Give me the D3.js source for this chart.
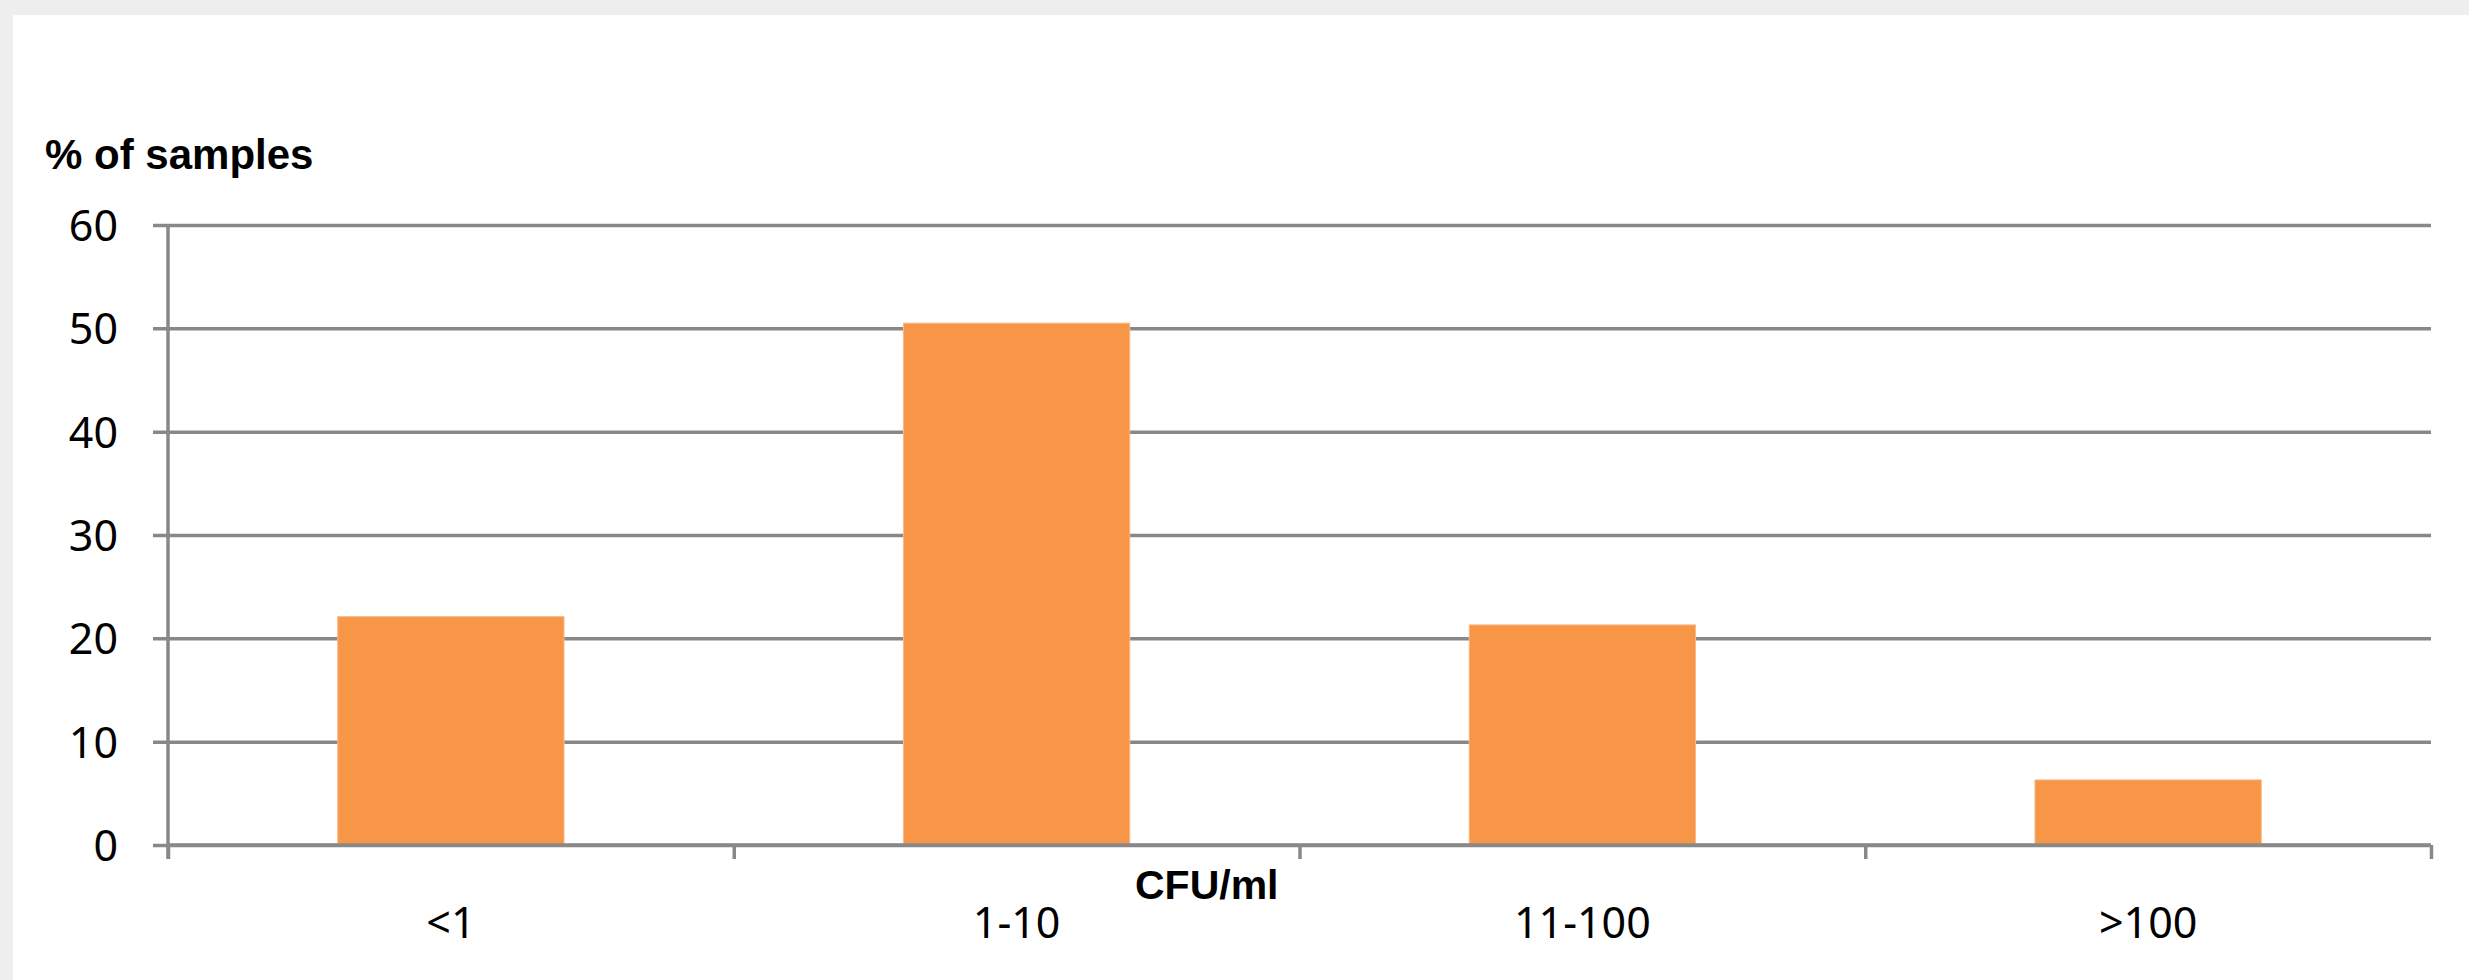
<!DOCTYPE html>
<html>
<head>
<meta charset="utf-8">
<script src="https://cdn.jsdelivr.net/npm/d3@7"></script>
<style>
  html, body { margin: 0; padding: 0; background: #eeeeee; }
  svg { display: block; }
</style>
</head>
<body>
<svg id="chart" width="2469" height="980"></svg>
<script>
// Share of samples per colony-count class
const categories = ["<1", "1-10", "11-100", ">100"];
const percentSamples = [22.1, 50.5, 21.3, 6.3];
const yTicks = [0, 10, 20, 30, 40, 50, 60];
const yAxisTitle = "% of samples";
const xAxisTitle = "CFU/ml";

const svg = d3.select("#chart");
const W = 2469, H = 980;
const labelFont = "'Noto Sans', 'Open Sans', sans-serif";
const titleFont = "'Liberation Sans', Arial, sans-serif";

// page backdrop and white panel
svg.append("rect").attr("width", W).attr("height", H).attr("fill", "#eeeeee");
svg.append("rect").attr("x", 13).attr("y", 15).attr("width", W - 13).attr("height", H - 15).attr("fill", "#ffffff");

const plot = { left: 168, right: 2431, top: 225, bottom: 845 };
const gridColor = "#888888";

const x = d3.scaleBand()
  .domain(categories)
  .range([plot.left, plot.right])
  .paddingInner(0.6)
  .paddingOuter(0.3);

const y = d3.scaleLinear()
  .domain([0, 60])
  .range([plot.bottom, plot.top]);

// boundaries between the category slots, for the x-axis tick marks
const slot = d3.scaleLinear().domain([0, categories.length]).range([plot.left, plot.right]);

// horizontal gridlines + y axis ticks/labels
const yAxis = svg.append("g")
  .attr("transform", `translate(${plot.left},0)`)
  .call(d3.axisLeft(y).tickValues(yTicks).tickSize(15).tickPadding(35).tickFormat(d3.format("d")));
yAxis.select(".domain").remove();
yAxis.selectAll(".tick line")
  .attr("x1", -15)
  .attr("x2", plot.right - plot.left)
  .attr("stroke", gridColor)
  .attr("stroke-width", 3.5);
yAxis.selectAll(".tick text")
  .attr("font-family", labelFont)
  .attr("font-size", 43)
  .attr("fill", "#000")
  .attr("dy", "0.36em");

// bars
svg.append("g")
  .selectAll("rect")
  .data(categories.map((c, i) => ({ c, v: percentSamples[i] })))
  .join("rect")
  .attr("x", d => x(d.c))
  .attr("width", x.bandwidth())
  .attr("y", d => y(d.v))
  .attr("height", d => y(0) - y(d.v))
  .attr("fill", "#F79646")
  .attr("stroke", "#FAB98A")
  .attr("stroke-width", 1);

// vertical axis line (runs a little below zero like the tick marks)
svg.append("line")
  .attr("x1", plot.left).attr("x2", plot.left)
  .attr("y1", plot.top).attr("y2", plot.bottom + 14)
  .attr("stroke", gridColor).attr("stroke-width", 3.5);

// x axis line with boundary ticks
const xTickAxis = svg.append("g")
  .attr("transform", `translate(0,${plot.bottom})`)
  .call(d3.axisBottom(slot).ticks(categories.length).tickSize(14).tickFormat(""));
xTickAxis.select(".domain").attr("stroke", gridColor).attr("stroke-width", 3.5)
  .attr("d", `M${plot.left},0H${plot.right}`);
xTickAxis.selectAll(".tick line").attr("stroke", gridColor).attr("stroke-width", 3.5);

// category labels centred under each bar
const xLabels = svg.append("g")
  .attr("transform", `translate(0,${plot.bottom})`)
  .call(d3.axisBottom(x).tickSize(0).tickPadding(0));
xLabels.select(".domain").remove();
xLabels.selectAll(".tick text")
  .attr("y", 93)
  .attr("dy", 0)
  .attr("font-family", labelFont)
  .attr("font-size", 43)
  .attr("fill", "#000");

// axis titles
svg.append("text")
  .attr("x", 45).attr("y", 169)
  .attr("font-family", titleFont)
  .attr("font-weight", "bold")
  .attr("font-size", 42)
  .attr("fill", "#000")
  .text(yAxisTitle);

svg.append("text")
  .attr("x", 1135).attr("y", 899)
  .attr("font-family", titleFont)
  .attr("font-weight", "bold")
  .attr("font-size", 41)
  .attr("fill", "#000")
  .text(xAxisTitle);
</script>
</body>
</html>
